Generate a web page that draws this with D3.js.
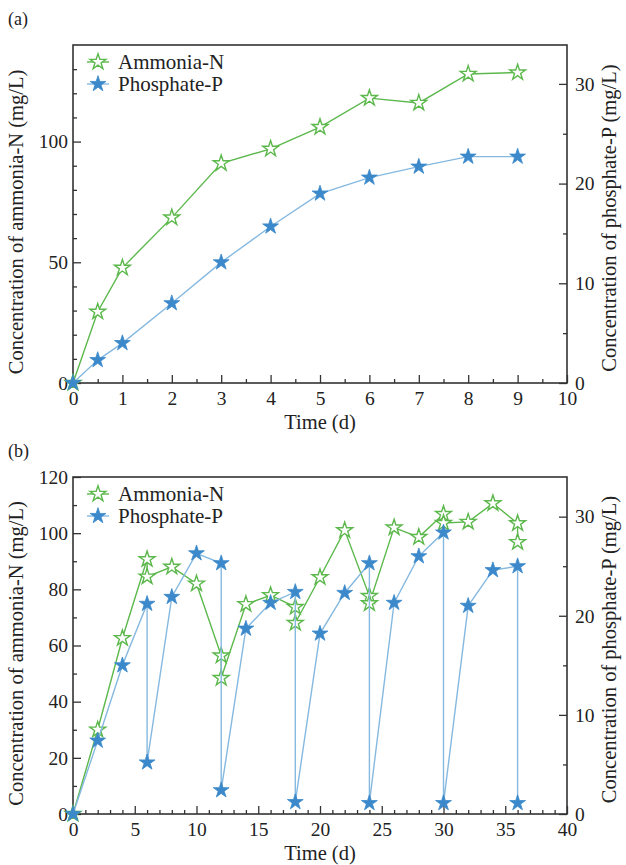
<!DOCTYPE html>
<html>
<head>
<meta charset="utf-8">
<script src="https://cdn.jsdelivr.net/npm/d3@7"></script>
<style>
	body { margin: 0; background: #fff; }
</style>
</head>
<body>
<div class="container"></div>
<script>
// panel (a) data
let timeA = [0, 0.5, 1, 2, 3, 4, 5, 6, 7, 8, 9]
let ammoniaA = [0, 29.5, 47.7, 68.5, 91, 97, 106, 118, 116, 128, 128.6]
let phosphateA = [0, 2.3, 4.0, 8.0, 12.1, 15.7, 19.0, 20.6, 21.7, 22.7, 22.7]

// panel (b) data, repeated days are the before/after values of a cycle
let timeB = [0, 2, 4, 6, 6, 8, 10, 12, 12, 14, 16, 18, 18, 20, 22, 24, 24, 26, 28, 30, 30, 32, 34, 36, 36]
let ammoniaB = [0, 30, 62.6, 90.7, 84.5, 88, 82, 56.4, 48.4, 74.7, 77.9, 73.7, 68, 84.3, 101, 77.6, 75, 102, 98.6, 106.8, 103.6, 104, 110.6, 103.5, 96.8]
let phosphateB = [0, 7.4, 15.0, 21.2, 5.2, 21.9, 26.3, 25.3, 2.4, 18.7, 21.3, 22.4, 1.2, 18.2, 22.3, 25.3, 1.1, 21.3, 26.0, 28.4, 1.1, 21.0, 24.6, 25.0, 1.1]

let seriesNames = ['Ammonia-N', 'Phosphate-P']

const green = '#5cb84c'
const blue = '#3b89ca'
const blueLine = '#86b9e0'
const axisColor = '#333'
const serif = 'Liberation Serif'

let svg = d3.select('.container')
	.append('svg')
	.attr('width', 626)
	.attr('height', 865)

function drawPanel(opt) {
	let x = d3.scaleLinear().domain(opt.xDomain).range([73, 567])
	let yL = d3.scaleLinear().domain(opt.leftDomain).range([opt.bottom, opt.top])
	let yR = d3.scaleLinear().domain(opt.rightDomain).range([opt.bottom, opt.top])

	let g = svg.append('g')

	// minor ticks
	g.append('g').attr('transform', `translate(0,${opt.bottom})`)
		.call(d3.axisBottom(x).tickValues(opt.xMinor).tickSizeInner(-4).tickSizeOuter(0).tickFormat(''))
	g.append('g').attr('transform', 'translate(73,0)')
		.call(d3.axisLeft(yL).tickValues(opt.leftMinor).tickSizeInner(-4).tickSizeOuter(0).tickFormat(''))
	g.append('g').attr('transform', 'translate(567,0)')
		.call(d3.axisRight(yR).tickValues(opt.rightMinor).tickSizeInner(-4).tickSizeOuter(0).tickFormat(''))

	// major ticks
	let ax = g.append('g').attr('transform', `translate(0,${opt.bottom})`)
		.call(d3.axisBottom(x).tickValues(opt.xTicks).tickSizeInner(-8).tickSizeOuter(0).tickPadding(5))
	g.append('g').attr('transform', 'translate(73,0)')
		.call(d3.axisLeft(yL).tickValues(opt.leftTicks).tickSizeInner(-8).tickSizeOuter(0).tickPadding(5))
	g.append('g').attr('transform', 'translate(567,0)')
		.call(d3.axisRight(yR).tickValues(opt.rightTicks).tickSizeInner(-8).tickSizeOuter(0).tickPadding(8))

	g.selectAll('.tick line').attr('stroke', axisColor).attr('stroke-width', 1.3)
	g.selectAll('.domain').remove()
	g.selectAll('.tick text').style('font-size', '19.5px').style('font-family', serif).attr('fill', '#222')
	ax.selectAll('.tick text').attr('dy', '0.85em')

	// frame
	g.append('rect')
		.attr('x', 73).attr('y', opt.top)
		.attr('width', 494).attr('height', opt.bottom - opt.top)
		.attr('fill', 'none').attr('stroke', axisColor).attr('stroke-width', 1.6)

	// titles
	g.append('text').attr('x', 8).attr('y', opt.top - 20)
		.style('font-family', serif).style('font-size', '18px').attr('fill', '#222').text(opt.label)
	g.append('text').attr('x', 320).attr('y', opt.bottom + 46)
		.attr('text-anchor', 'middle').style('font-family', serif).style('font-size', '20.5px')
		.attr('fill', '#222').text('Time (d)')
	g.append('text')
		.attr('transform', `translate(23,${(opt.top + opt.bottom) / 2 + 8}) rotate(-90)`)
		.attr('text-anchor', 'middle').style('font-family', serif).style('font-size', '20.5px')
		.attr('fill', '#222').text('Concentration of ammonia-N (mg/L)')
	g.append('text')
		.attr('transform', `translate(616,${(opt.top + opt.bottom) / 2 + 4}) rotate(-90)`)
		.attr('text-anchor', 'middle').style('font-family', serif).style('font-size', '20.5px')
		.attr('fill', '#222').text('Concentration of phosphate-P (mg/L)')

	let star = d3.symbol().type(d3.symbolStar).size(78)

	// ammonia on left axis
	let lineL = d3.line().x(d => x(d[0])).y(d => yL(d[1]))
	let ptsA = opt.time.map((t, i) => [t, opt.ammonia[i]])
	g.append('path').attr('d', lineL(ptsA))
		.attr('fill', 'none').attr('stroke', green).attr('stroke-width', 1.4)
	g.selectAll('.starA').data(ptsA).enter().append('path')
		.attr('transform', d => `translate(${x(d[0])},${yL(d[1])})`)
		.attr('d', star).attr('fill', 'white').attr('stroke', green).attr('stroke-width', 1.4)

	// phosphate on right axis
	let lineR = d3.line().x(d => x(d[0])).y(d => yR(d[1]))
	let ptsP = opt.time.map((t, i) => [t, opt.phosphate[i]])
	g.append('path').attr('d', lineR(ptsP))
		.attr('fill', 'none').attr('stroke', blueLine).attr('stroke-width', 1.4)
	g.selectAll('.starP').data(ptsP).enter().append('path')
		.attr('transform', d => `translate(${x(d[0])},${yR(d[1])})`)
		.attr('d', star).attr('fill', blue).attr('stroke', blue).attr('stroke-width', 0.8)

	// legend
	let lg = g.append('g').attr('transform', `translate(98,${opt.top + 17})`)
	seriesNames.forEach((name, i) => {
		let row = lg.append('g').attr('transform', `translate(0,${i * 22})`)
		row.append('line').attr('x1', -11).attr('x2', 11)
			.attr('stroke', i === 0 ? green : blueLine).attr('stroke-width', 1.4)
		row.append('path').attr('d', star)
			.attr('fill', i === 0 ? 'white' : blue)
			.attr('stroke', i === 0 ? green : blue)
			.attr('stroke-width', i === 0 ? 1.4 : 0.8)
		row.append('text').attr('x', 20).attr('dy', '0.35em')
			.style('font-family', serif).style('font-size', '21px').attr('fill', '#222').text(name)
	})
}

drawPanel({
	label: '(a)', top: 45, bottom: 383,
	xDomain: [0, 10], leftDomain: [0, 140], rightDomain: [0, 33.9],
	xTicks: d3.range(0, 11, 1), xMinor: d3.range(0.5, 10, 1),
	leftTicks: [0, 50, 100], leftMinor: d3.range(10, 140, 10).filter(v => v % 50),
	rightTicks: [0, 10, 20, 30], rightMinor: [5, 15, 25],
	time: timeA, ammonia: ammoniaA, phosphate: phosphateA
})

drawPanel({
	label: '(b)', top: 477, bottom: 814,
	xDomain: [0, 40], leftDomain: [0, 120], rightDomain: [0, 34],
	xTicks: d3.range(0, 41, 5), xMinor: d3.range(1, 40, 1).filter(v => v % 5),
	leftTicks: d3.range(0, 121, 20), leftMinor: d3.range(10, 120, 20),
	rightTicks: [0, 10, 20, 30], rightMinor: [5, 15, 25],
	time: timeB, ammonia: ammoniaB, phosphate: phosphateB
})
</script>
</body>
</html>
